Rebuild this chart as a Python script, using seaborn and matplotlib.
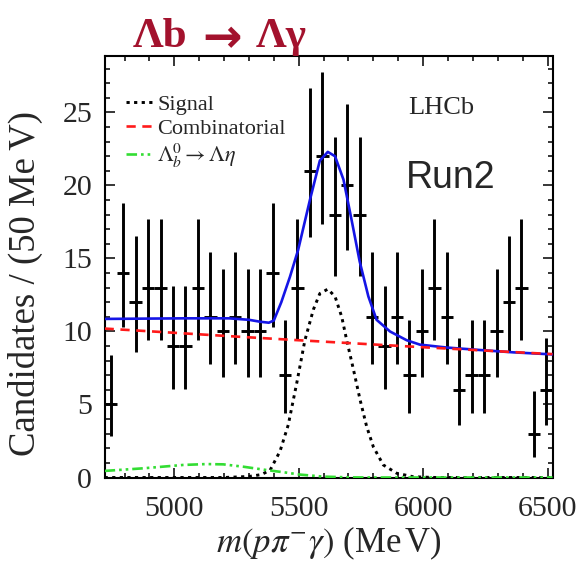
import numpy as np
import pandas as pd
import matplotlib
matplotlib.use("Agg")
import matplotlib.pyplot as plt
from matplotlib.lines import Line2D
from matplotlib.ticker import MultipleLocator
import seaborn as sns

# ---------------- data ----------------
bin_centers = [4745, 4795, 4845, 4895, 4945, 4995, 5045, 5095, 5145, 5195,
               5245, 5295, 5345, 5395, 5445, 5495, 5545, 5595, 5645, 5695,
               5745, 5795, 5845, 5895, 5945, 5995, 6045, 6095, 6145, 6195,
               6245, 6295, 6345, 6395, 6445, 6495]
counts = [5, 14, 12, 13, 13, 9, 9, 13, 11, 10,
          11, 10, 10, 14, 7, 13, 21, 22, 18, 20,
          18, 11, 9, 11, 7, 10, 13, 11, 6, 7,
          7, 10, 12, 13, 3, 6]
err_lo = [2.16, 3.69, 3.41, 3.55, 3.55, 2.94, 2.94, 3.55, 3.26, 3.11,
          3.26, 3.11, 3.11, 3.69, 2.58, 3.55, 4.54, 4.65, 4.19, 4.43,
          4.19, 3.26, 2.94, 3.26, 2.58, 3.11, 3.55, 3.26, 2.38, 2.58,
          2.58, 3.11, 3.41, 3.55, 1.63, 2.38]
err_hi = [3.38, 4.83, 4.56, 4.70, 4.70, 4.11, 4.11, 4.70, 4.42, 4.26,
          4.42, 4.26, 4.26, 4.83, 3.77, 4.70, 5.67, 5.78, 5.33, 5.56,
          5.33, 4.42, 4.11, 4.42, 3.77, 4.26, 4.70, 4.42, 3.58, 3.77,
          3.77, 4.26, 4.56, 4.70, 2.92, 3.58]
half_bin = 25

# fit components
sig_mass = [4720, 5200, 5300, 5350, 5385, 5425, 5458, 5492, 5525, 5559, 5585,
            5617, 5646, 5673, 5693, 5720, 5747, 5773, 5800, 5840, 5894, 5961,
            6050, 6520]
sig_val = [0.0, 0.0, 0.07, 0.2, 0.5, 1.8, 3.6, 6.45, 9.4, 11.5, 12.6,
           12.9, 12.4, 11.0, 9.4, 7.4, 5.3, 3.5, 2.1, 0.86, 0.29, 0.05,
           0.0, 0.0]

comb_mass = [4720, 5000, 5250, 5500, 5750, 6000, 6250, 6520]
comb_val = [10.2, 9.91, 9.65, 9.40, 9.16, 8.92, 8.69, 8.45]

eta_mass = [4720, 4876, 5036, 5130, 5197, 5277, 5371, 5452, 5505, 5600,
            5700, 5800, 6520]
eta_val = [0.45, 0.63, 0.86, 0.92, 0.90, 0.74, 0.51, 0.33, 0.20, 0.06,
           0.01, 0.0, 0.0]

tot_mass = [4720, 5036, 5220, 5300, 5344, 5380, 5400, 5430, 5465, 5498,
            5545, 5585, 5617, 5646, 5680, 5713, 5745, 5780, 5813, 5867,
            5934, 5987, 6095, 6229, 6363, 6520]
tot_val = [10.86, 10.9, 10.9, 10.8, 10.67, 10.6, 10.75, 12.0, 13.75, 15.6,
           19.0, 21.7, 22.3, 22.0, 20.4, 17.6, 14.8, 12.4, 10.8, 10.0,
           9.4, 9.1, 8.9, 8.73, 8.57, 8.43]

x_ticks = [5000, 5500, 6000, 6500]
y_ticks = [0, 5, 10, 15, 20, 25]

# ---------------- style ----------------
sns.set_theme(style="ticks")
plt.rcParams["font.family"] = ["Liberation Serif", "DejaVu Serif"]
plt.rcParams["mathtext.fontset"] = "stix"

W, H = 583, 565
fig = plt.figure(figsize=(W / 100, H / 100), dpi=100)
ax = fig.add_axes([104.6 / W, 1 - 477.5 / H, 447.9 / W, 422.0 / H])

df_data = pd.DataFrame({"m": bin_centers, "n": counts})

ax.errorbar(df_data["m"], df_data["n"], xerr=half_bin,
            yerr=[err_lo, err_hi], fmt="none", ecolor="black",
            elinewidth=2.1, capsize=0, zorder=2)

sig_ls = (0, (1.1, 1.5))
eta_ls = (0, (4, 1.5, 1, 1.5, 1, 1.5))
comb_ls = (0, (3.5, 2.5))

sns.lineplot(x=sig_mass, y=sig_val, ax=ax, color="black",
             linestyle=sig_ls, linewidth=2.1, zorder=3)
sns.lineplot(x=eta_mass, y=eta_val, ax=ax, color="#33dd33",
             linestyle=eta_ls, linewidth=1.9, zorder=3)
sns.lineplot(x=comb_mass, y=comb_val, ax=ax, color="#ff1a1a",
             linestyle=comb_ls, linewidth=1.9, zorder=4)
sns.lineplot(x=tot_mass, y=tot_val, ax=ax, color="#1515e6",
             linewidth=1.9, zorder=3.5)

ax.set_xlim(4720, 6520)
ax.set_ylim(0, 28.9)
ax.set_xticks(x_ticks)
ax.set_yticks(y_ticks)
ax.xaxis.set_minor_locator(MultipleLocator(100))
ax.yaxis.set_minor_locator(MultipleLocator(1))
ax.tick_params(which="both", direction="in", top=True, right=True,
               width=1.1, color="black")
ax.tick_params(which="major", length=7.5)
ax.tick_params(which="minor", length=3.8)
ax.tick_params(axis="x", which="major", labelsize=21.5, pad=13)
ax.tick_params(axis="y", which="major", labelsize=21.5, pad=9)
for s in ax.spines.values():
    s.set_linewidth(1.5)
    s.set_color("black")

ax.set_xlabel(r"$m(p\pi^{-}\gamma)$ (Me$\,$V)", fontsize=25)
ax.set_ylabel("Candidates / (50 Me\u2009V)", fontsize=26.5)
ax.xaxis.set_label_coords(0.5, -0.112)
ax.yaxis.set_label_coords(-0.137, 0.46)

handles = [
    Line2D([], [], color="black", linestyle=sig_ls, linewidth=2.1),
    Line2D([], [], color="#ff1a1a", linestyle=comb_ls, linewidth=1.9),
    Line2D([], [], color="#33dd33", linestyle=eta_ls, linewidth=1.9),
]
labels = ["Signal", "Combinatorial",
          r"$\mathit{\Lambda}_b^0\rightarrow\mathit{\Lambda}\eta$"]
ax.legend(handles, labels, loc="upper left",
          bbox_to_anchor=(126 / W, 1 - 94 / H),
          bbox_transform=fig.transFigure, frameon=False, fontsize=16,
          handlelength=1.15, handletextpad=0.25, labelspacing=0.16,
          borderpad=0, borderaxespad=0)

fig.text(408 / W, 1 - 114 / H, "LHCb", fontsize=19, ha="left",
         va="baseline")
fig.text(406 / W, 1 - 188 / H, "Run2", fontsize=27, ha="left",
         va="baseline", family=["Liberation Sans", "DejaVu Sans"])

title_color = "#a3122d"
fig.text(133 / W, 1 - 47 / H, "\u039bb", fontsize=31, ha="left",
         va="baseline", color=title_color, fontweight="bold",
         family=["Liberation Serif", "DejaVu Serif"])
fig.text(222 / W, 1 - 35 / H, "\u2192", fontsize=34, ha="center",
         va="center_baseline", color=title_color, fontweight="bold",
         family=["DejaVu Sans"])
fig.text(256 / W, 1 - 47 / H, "\u039b\u03b3", fontsize=31, ha="left",
         va="baseline", color=title_color, fontweight="bold",
         family=["Liberation Serif", "DejaVu Serif"])

fig.savefig("out.png", dpi=100)
